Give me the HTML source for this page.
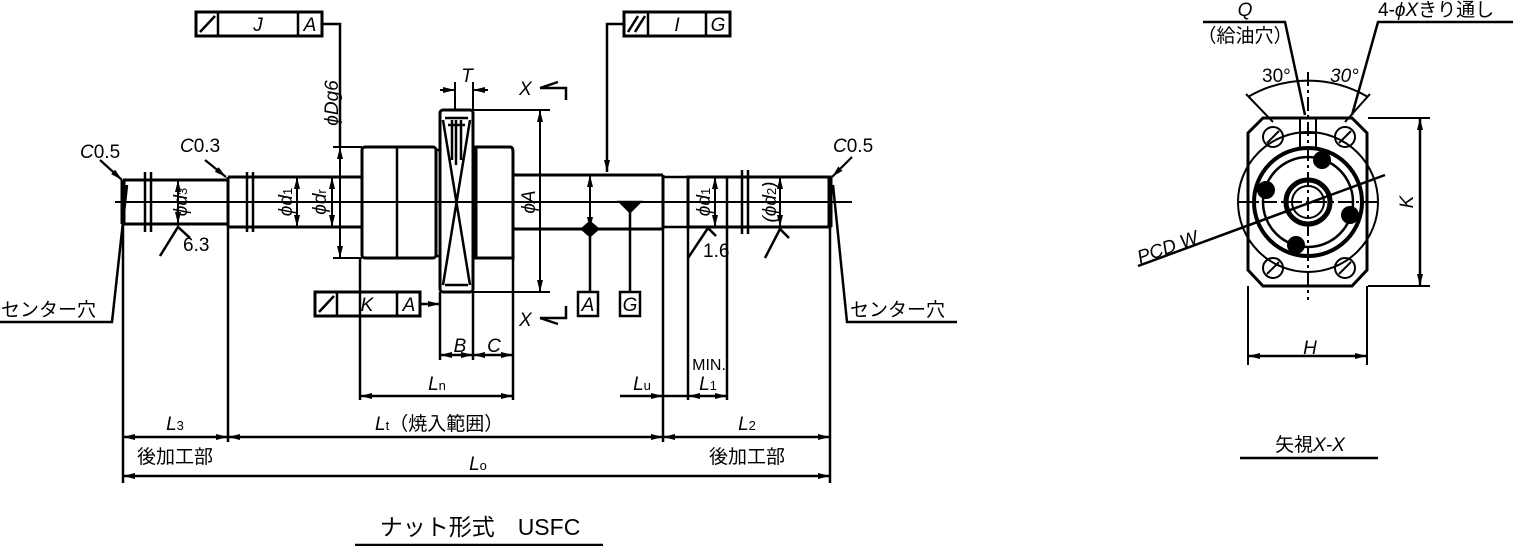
<!DOCTYPE html>
<html><head><meta charset="utf-8"><style>
html,body{margin:0;padding:0;background:#fff;}
svg{display:block;}
text{font-family:"Liberation Sans","Noto Sans CJK JP",sans-serif;fill:#000;font-size:19px;}
.i{font-style:italic;}
.s{font-size:13px;font-style:normal;}
</style></head><body>
<svg width="1513" height="546" viewBox="0 0 1513 546" xmlns="http://www.w3.org/2000/svg">
<defs>
<marker id="a" viewBox="0 0 12 6" refX="12" refY="3" markerWidth="12" markerHeight="6" orient="auto-start-reverse" markerUnits="userSpaceOnUse"><path d="M0,0L12,3L0,6z" fill="#000"/></marker>
</defs>
<g stroke="#000" fill="none" stroke-width="2.5">
<line x1="115" y1="202" x2="852" y2="202" stroke-width="2"/>
<path d="M123,180H228M123,224H228M123,180V224" stroke-width="3"/>
<path d="M145,172V232M151,172V232M247,172V232M253,172V232" stroke-width="2.5"/>
<path d="M228,177H362M228,227H362M228,177V227" stroke-width="3"/>
<rect x="362" y="147" width="74" height="111" rx="3" stroke-width="3"/>
<line x1="397" y1="147" x2="397" y2="258"/>
<path d="M436,150H440M436,256H440"/>
<rect x="440" y="110" width="33" height="182" rx="3" stroke-width="3"/>
<path d="M443,120L470,285M470,120L443,285M445,118H468M445,285H468M448,125H465M452,120V160M456,120V165M461,120V160"/>
<path d="M476,147H510Q513,147 513,152V258H476Z" stroke-width="3"/>
<path d="M513,175H663M513,229H663M663,175V229" stroke-width="3"/>
<path d="M663,177H688M663,227H688"/>
<rect x="688" y="177" width="142" height="50" stroke-width="3"/>
<line x1="727" y1="177" x2="727" y2="227"/>
<path d="M742,170V234M748,170V234"/>
<line x1="830" y1="177" x2="830" y2="227" stroke-width="5"/>
<line x1="123" y1="180" x2="123" y2="224" stroke-width="5"/>
<line x1="178" y1="180" x2="178" y2="224" marker-start="url(#a)" marker-end="url(#a)" stroke-width="2"/>
<line x1="297" y1="177" x2="297" y2="227" marker-start="url(#a)" marker-end="url(#a)" stroke-width="2"/>
<line x1="332" y1="177" x2="332" y2="227" marker-start="url(#a)" marker-end="url(#a)" stroke-width="2"/>
<line x1="340" y1="147" x2="340" y2="258" marker-start="url(#a)" marker-end="url(#a)" stroke-width="2"/>
<path d="M333,147H362M333,258H362" stroke-width="2"/>
<line x1="540" y1="110" x2="540" y2="292" marker-start="url(#a)" marker-end="url(#a)" stroke-width="2"/>
<path d="M473,110H550M473,292H550" stroke-width="2"/>
<line x1="590" y1="175" x2="590" y2="229" marker-start="url(#a)" marker-end="url(#a)" stroke-width="2"/>
<line x1="715" y1="177" x2="715" y2="227" marker-start="url(#a)" marker-end="url(#a)" stroke-width="2"/>
<line x1="780" y1="177" x2="780" y2="227" marker-start="url(#a)" marker-end="url(#a)" stroke-width="2"/>
<path d="M160,256L178,227L190,238"/>
<path d="M688,258L708,228L716,236"/>
<path d="M765,258L780,229L789,238"/>
<line x1="100" y1="160" x2="122" y2="180" marker-end="url(#a)" stroke-width="2.2"/>
<line x1="205" y1="160" x2="226" y2="177" marker-end="url(#a)" stroke-width="2.2"/>
<line x1="852" y1="157" x2="832" y2="177" marker-end="url(#a)" stroke-width="2.2"/>
<path d="M455,82V110M473,82V110" stroke-width="2"/>
<line x1="440" y1="90" x2="455" y2="90" marker-end="url(#a)" stroke-width="2"/>
<line x1="488" y1="90" x2="473" y2="90" marker-end="url(#a)" stroke-width="2"/>
<path d="M540,88H566V100M540,318H566V306"/>
<path d="M540,88L558,82M540,318L558,324"/>
<rect x="196" y="12" width="126" height="24" stroke-width="3"/>
<path d="M218,12V36M298,12V36M200,32L215,16"/>
<path d="M322,24H340V147"/>
<rect x="624" y="12" width="106" height="24" stroke-width="3"/>
<path d="M648,12V36M706,12V36M628,32L638,16M635,32L645,16"/>
<path d="M624,24H607V172" marker-end="url(#a)"/>
<rect x="315" y="292" width="105" height="24" stroke-width="3"/>
<path d="M337,292V316M397,292V316M319,312L334,296"/>
<line x1="420" y1="304" x2="440" y2="304" marker-end="url(#a)"/>
<rect x="578" y="292" width="20" height="24"/>
<rect x="620" y="292" width="20" height="24"/>
<path d="M590,229V292M630,202V292"/>
<path d="M620,202H640L630,212Z" fill="#000"/>
<path d="M582,229L590,222L598,229L590,236Z" fill="#000"/>
<path d="M123,224V483M228,227V442M830,227V483M663,229V442M688,227V400M727,227V400M360,258V400M440,292V360M473,292V360M513,258V400"/>
<line x1="440" y1="355" x2="473" y2="355" marker-start="url(#a)" marker-end="url(#a)"/>
<line x1="473" y1="355" x2="513" y2="355" marker-start="url(#a)" marker-end="url(#a)"/>
<line x1="360" y1="396" x2="513" y2="396" marker-start="url(#a)" marker-end="url(#a)"/>
<line x1="620" y1="396" x2="663" y2="396" marker-end="url(#a)"/>
<line x1="663" y1="396" x2="688" y2="396"/>
<line x1="688" y1="396" x2="727" y2="396" marker-start="url(#a)" marker-end="url(#a)"/>
<line x1="123" y1="437" x2="228" y2="437" marker-start="url(#a)" marker-end="url(#a)"/>
<line x1="228" y1="437" x2="663" y2="437" marker-start="url(#a)" marker-end="url(#a)"/>
<line x1="663" y1="437" x2="830" y2="437" marker-start="url(#a)" marker-end="url(#a)"/>
<line x1="123" y1="476" x2="830" y2="476" marker-start="url(#a)" marker-end="url(#a)"/>
<path d="M0,322H112L127,185M957,322H847L833,185"/>
<line x1="355" y1="545" x2="603" y2="545"/>
<path d="M1263,118H1352L1367,133V270L1352,286H1263L1248,270V133Z" stroke-width="3"/>
<circle cx="1308" cy="202" r="70" stroke-width="2"/>
<circle cx="1308" cy="202" r="54" stroke-width="4"/>
<circle cx="1308" cy="202" r="45" stroke-width="2.5"/>
<circle cx="1308" cy="202" r="22" stroke-width="5"/>
<circle cx="1308" cy="202" r="16" stroke-width="2"/>
<g fill="#000" stroke="none">
<circle cx="1322" cy="160" r="9"/><circle cx="1266" cy="190" r="9"/><circle cx="1350" cy="215" r="9"/><circle cx="1296" cy="245" r="9"/>
</g>
<circle cx="1273" cy="137" r="10" stroke-width="2"/><circle cx="1345" cy="137" r="10" stroke-width="2"/>
<circle cx="1273" cy="268" r="10" stroke-width="2"/><circle cx="1345" cy="268" r="10" stroke-width="2"/>
<path d="M1267,143L1279,131M1339,143L1351,131M1267,274L1279,262M1339,274L1351,262" stroke-width="2"/>
<path d="M1300,118V148M1316,118V148M1300,133H1316" stroke-width="2"/>
<path d="M1308,72V300M1238,202H1378" stroke-width="2" stroke-dasharray="14,4,3,4"/>
<path d="M1368,118H1430M1368,286H1430M1248,286V365M1367,286V365" stroke-width="2"/>
<line x1="1420" y1="118" x2="1420" y2="286" marker-start="url(#a)" marker-end="url(#a)"/>
<line x1="1248" y1="356" x2="1367" y2="356" marker-start="url(#a)" marker-end="url(#a)"/>
<path d="M1248,97A118,118 0 0 1 1368,97" stroke-width="2"/>
<path d="M1246,94L1273,122M1370,94L1345,122" stroke-width="2"/>
<path d="M1203,22H1285L1305,115M1513,22H1378L1352,115"/>
<path d="M1138,266L1385,175"/>
<line x1="1240" y1="458" x2="1378" y2="458"/>
</g>
<text x="258" y="31" class="i" text-anchor="middle">J</text>
<text x="310" y="31" class="i" text-anchor="middle">A</text>
<text x="677" y="31" class="i" text-anchor="middle">I</text>
<text x="718" y="31" class="i" text-anchor="middle">G</text>
<text x="367" y="311" class="i" text-anchor="middle">K</text>
<text x="409" y="311" class="i" text-anchor="middle">A</text>
<text x="588" y="311" class="i" text-anchor="middle">A</text>
<text x="630" y="311" class="i" text-anchor="middle">G</text>
<text x="80" y="158" class="i">C<tspan font-style="normal">0.5</tspan></text>
<text x="180" y="152" class="i">C<tspan font-style="normal">0.3</tspan></text>
<text x="833" y="152" class="i">C<tspan font-style="normal">0.5</tspan></text>
<text x="183" y="251">6.3</text>
<text x="703" y="257">1.6</text>
<text x="467" y="82" class="i" text-anchor="middle">T</text>
<text x="519" y="95" class="i">X</text>
<text x="519" y="326" class="i">X</text>
<text x="460" y="352" class="i" text-anchor="middle">B</text>
<text x="494" y="352" class="i" text-anchor="middle">C</text>
<text x="437" y="390" class="i" text-anchor="middle">L<tspan class="s">n</tspan></text>
<text x="642" y="390" class="i" text-anchor="middle">L<tspan class="s">u</tspan></text>
<text x="709" y="370" text-anchor="middle" style="font-size:16px">MIN.</text>
<text x="708" y="390" class="i" text-anchor="middle">L<tspan class="s">1</tspan></text>
<text x="175" y="430" class="i" text-anchor="middle">L<tspan class="s">3</tspan></text>
<text x="375" y="430" class="i">L<tspan class="s">t</tspan><tspan font-style="normal">（焼入範囲）</tspan></text>
<text x="747" y="430" class="i" text-anchor="middle">L<tspan class="s">2</tspan></text>
<text x="478" y="470" class="i" text-anchor="middle">L<tspan class="s">o</tspan></text>
<text x="175" y="463" text-anchor="middle">後加工部</text>
<text x="747" y="463" text-anchor="middle">後加工部</text>
<text x="1" y="316">センター穴</text>
<text x="850" y="316">センター穴</text>
<text x="1245" y="16" class="i" text-anchor="middle">Q</text>
<text x="1245" y="42" text-anchor="middle">（給油穴）</text>
<text x="1378" y="16">4-<tspan class="i">ϕX</tspan>きり通し</text>
<text x="1262" y="82">30°</text>
<text x="1330" y="82" class="i">30°</text>
<text x="1310" y="354" class="i" text-anchor="middle">H</text>
<text x="1310" y="451" text-anchor="middle">矢視<tspan class="i">X-X</tspan></text>
<text transform="translate(1140,264) rotate(-20)" class="i">PCD  W</text>
<text transform="translate(1413,202) rotate(-90)" class="i" text-anchor="middle">K</text>
<text transform="translate(187,202) rotate(-90)" class="i" text-anchor="middle">ϕd<tspan class="s">3</tspan></text>
<text transform="translate(292,202) rotate(-90)" class="i" text-anchor="middle">ϕd<tspan class="s">1</tspan></text>
<text transform="translate(326,202) rotate(-90)" class="i" text-anchor="middle">ϕd<tspan class="s">r</tspan></text>
<text transform="translate(338,103) rotate(-90)" class="i" text-anchor="middle">ϕDg6</text>
<text transform="translate(535,202) rotate(-90)" class="i" text-anchor="middle">ϕA</text>
<text transform="translate(710,202) rotate(-90)" class="i" text-anchor="middle">ϕd<tspan class="s">1</tspan></text>
<text transform="translate(776,202) rotate(-90)" class="i" text-anchor="middle">(ϕd<tspan class="s">2</tspan>)</text>
<text x="480" y="535" text-anchor="middle" style="font-size:23px">ナット形式　USFC</text>
</svg>
</body></html>
